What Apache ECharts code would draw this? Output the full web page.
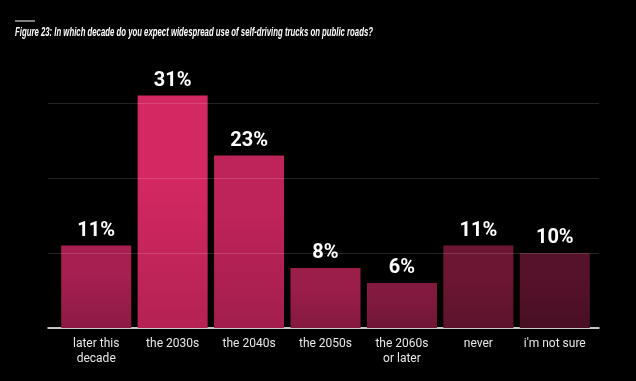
<!DOCTYPE html>
<html>
<head>
<meta charset="utf-8">
<script src="https://cdn.jsdelivr.net/npm/echarts@6/dist/echarts.min.js"></script>
<style>
html,body{margin:0;padding:0;background:#000;}
#c{width:636px;height:381px;}
</style>
</head>
<body>
<div id="c"></div>
<script>
const titleText = "Figure 23: In which decade do you expect widespread use of self-driving trucks on public roads?";
const categories = ["later this\ndecade", "the 2030s", "the 2040s", "the 2050s", "the 2060s\nor later", "never", "i'm not sure"];
const values = [11, 31, 23, 8, 6, 11, 10];
const barColors = ["#a61f50", "#d42862", "#be2359", "#9b1d4a", "#821a3f", "#6d1634", "#56122a"];
const yTicks = [0, 10, 20, 30];

function shade(hex, f) {
  const n = parseInt(hex.slice(1), 16);
  const r = Math.round(((n >> 16) & 255) * f), g = Math.round(((n >> 8) & 255) * f), b = Math.round((n & 255) * f);
  return 'rgb(' + r + ',' + g + ',' + b + ')';
}

const titleFont = 'italic bold 12.5px "Liberation Sans Narrow", "Liberation Sans", sans-serif';
const cv = document.createElement('canvas').getContext('2d');
cv.font = titleFont;
const tw = cv.measureText(titleText).width;
const titleScale = 358 / tw;

const chart = echarts.init(document.getElementById('c'), null, {renderer: 'canvas'});
chart.setOption({
  backgroundColor: '#000',
  animation: false,
  graphic: [
    {type: 'line', shape: {x1: 15, y1: 21, x2: 35, y2: 21}, style: {stroke: '#fff', lineWidth: 1}},
    {type: 'text', x: 15, y: 39, scaleX: titleScale, style: {text: titleText, font: titleFont, fill: '#fff', textVerticalAlign: 'bottom'}}
  ],
  grid: [
    {left: 48, right: 37, top: 103, bottom: 53},
    {left: 58, right: 43, top: 103, bottom: 53}
  ],
  xAxis: [
    {type: 'value', gridIndex: 0, min: 0, max: 1, axisLine: {show: true, onZero: false, lineStyle: {color: '#fff', width: 1.5}}, axisTick: {show: false}, axisLabel: {show: false}, splitLine: {show: false}},
    {type: 'category', gridIndex: 1, data: categories, axisLine: {show: false}, axisTick: {show: false},
     axisLabel: {color: '#e8e8e8', fontFamily: 'Roboto', fontSize: 12, lineHeight: 15, margin: 8, interval: 0}}
  ],
  yAxis: [
    {type: 'value', gridIndex: 0, min: yTicks[0], max: yTicks[yTicks.length - 1], interval: 10, z: 5,
     axisLine: {show: false}, axisTick: {show: false}, axisLabel: {show: false},
     splitLine: {show: true, lineStyle: {color: 'rgba(255,255,255,0.14)', width: 1}}},
    {type: 'value', gridIndex: 1, min: yTicks[0], max: yTicks[yTicks.length - 1], show: false, splitLine: {show: false}}
  ],
  series: [{
    type: 'bar',
    xAxisIndex: 1, yAxisIndex: 1,
    barWidth: 70,
    clip: false,
    data: values.map((v, i) => ({
      value: v,
      itemStyle: {color: {type: 'linear', x: 0, y: 0, x2: 0, y2: 1, colorStops: [
        {offset: 0, color: barColors[i]}, {offset: 0.35, color: barColors[i]}, {offset: 1, color: shade(barColors[i], 0.85)}]}}
    })),
    label: {show: true, position: 'top', distance: 5, formatter: '{c}%', color: '#fff', fontFamily: 'Roboto', fontWeight: 'bold', fontSize: 20}
  }]
});
</script>
</body>
</html>
